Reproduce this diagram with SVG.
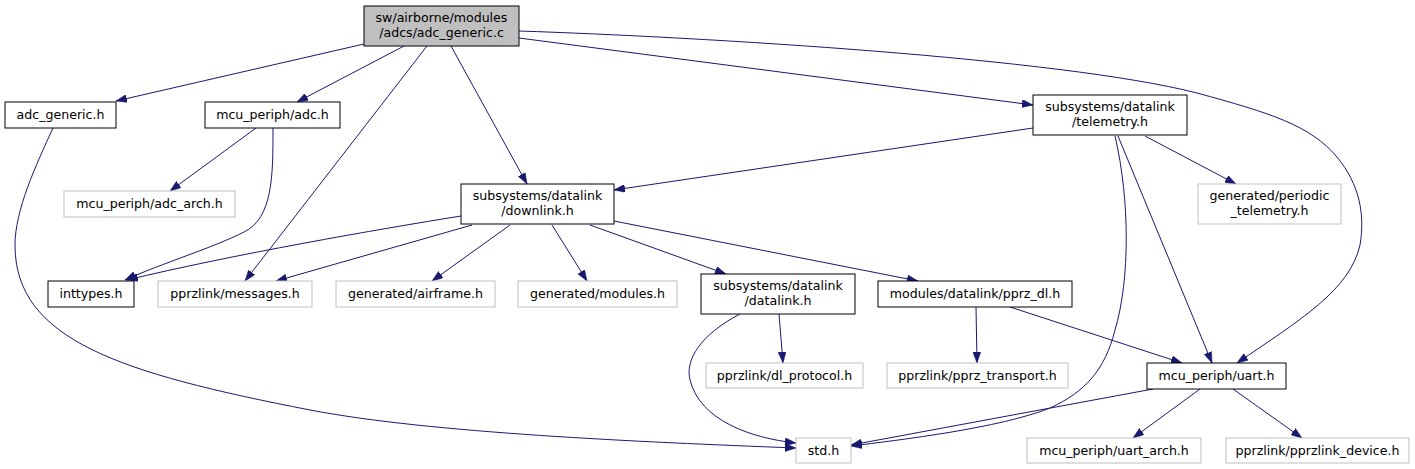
<svg xmlns="http://www.w3.org/2000/svg" width="1415" height="469" viewBox="0 0 1415 469">
<style>
.n rect{fill:#fff;stroke:#000;stroke-width:1}
.g rect{fill:#fff;stroke:#bfbfbf;stroke-width:1}
.m rect{fill:#bfbfbf;stroke:#000;stroke-width:1}
text{font-family:"DejaVu Sans",sans-serif;font-size:12.6px;fill:#000;text-anchor:middle}
#edges path{fill:none;stroke:#191970;stroke-width:1;marker-end:url(#ah)}
</style>
<defs>
<marker id="ah" markerUnits="userSpaceOnUse" markerWidth="11" markerHeight="8" viewBox="0 0 11 8" refX="11" refY="4" orient="auto">
<path d="M0,0 L11,4 L0,8 z" fill="#191970" stroke="#191970" stroke-width="0.5"/>
</marker>
</defs>
<rect width="1415" height="469" fill="#fff"/>
<g id="edges">
<path d="M364,44 L116,101"/>
<path d="M404,46 L297,102"/>
<path d="M427,46 L245,281"/>
<path d="M451,46 L527,184"/>
<path d="M519,38 L1033,105"/>
<path d="M519,31 C700,37 1060,58 1197,93 C1270,113 1310,125 1337,157 C1360,185 1365,215 1360,245 C1350,290 1300,320 1237,363"/>
<path d="M53,128 C36,165 15,210 15,245 C15,340 120,373 310,410 C430,433 640,442 796,448"/>
<path d="M256,128 L170,191"/>
<path d="M273,128 C273,175 273,218 244,232 C215,247 160,264 125,280"/>
<path d="M461,216 C380,229 230,255 127,280"/>
<path d="M472,225 L276,281"/>
<path d="M510,225 L432,281"/>
<path d="M552,225 L587,281"/>
<path d="M590,225 L726,274"/>
<path d="M614,221 L918,281"/>
<path d="M1033,128 L614,190"/>
<path d="M1145,136 L1236,184"/>
<path d="M1115,136 C1130,200 1130,280 1115,330 C1105,370 1085,392 1050,408 C1000,428 900,440 851,446"/>
<path d="M1118,136 L1212,363"/>
<path d="M779,314 L783,363"/>
<path d="M740,314 C700,335 685,360 690,380 C700,420 750,438 796,443"/>
<path d="M976,307 L977,363"/>
<path d="M1010,307 L1182,363"/>
<path d="M1153,389 L851,445"/>
<path d="M1200,389 L1133,438"/>
<path d="M1233,389 L1302,438"/>
</g>
<g id="main" class="m"><rect x="364" y="6" width="155" height="40"/><text x="441.5" y="22">sw/airborne/modules</text><text x="441.5" y="37">/adcs/adc_generic.c</text></g>
<g id="adc_generic_h" class="n"><rect x="5" y="102" width="111" height="26"/><text x="60.5" y="119">adc_generic.h</text></g>
<g id="adc_h" class="n"><rect x="205" y="102" width="135" height="26"/><text x="272.5" y="119">mcu_periph/adc.h</text></g>
<g id="adc_arch_h" class="g"><rect x="64" y="191" width="171" height="26"/><text x="149.5" y="208">mcu_periph/adc_arch.h</text></g>
<g id="telemetry_h" class="n"><rect x="1033" y="95" width="154" height="40"/><text x="1110" y="111">subsystems/datalink</text><text x="1110" y="126">/telemetry.h</text></g>
<g id="periodic_telemetry_h" class="g"><rect x="1198" y="184" width="143" height="40"/><text x="1269.5" y="200">generated/periodic</text><text x="1269.5" y="215">_telemetry.h</text></g>
<g id="downlink_h" class="n"><rect x="461" y="184" width="153" height="40"/><text x="537.5" y="200">subsystems/datalink</text><text x="537.5" y="215">/downlink.h</text></g>
<g id="inttypes_h" class="n"><rect x="48" y="281" width="86" height="26"/><text x="91" y="298">inttypes.h</text></g>
<g id="messages_h" class="g"><rect x="158" y="281" width="154" height="26"/><text x="235" y="298">pprzlink/messages.h</text></g>
<g id="airframe_h" class="g"><rect x="336" y="281" width="159" height="26"/><text x="415.5" y="298">generated/airframe.h</text></g>
<g id="modules_h" class="g"><rect x="518" y="281" width="159" height="26"/><text x="597.5" y="298">generated/modules.h</text></g>
<g id="datalink_h" class="n"><rect x="701" y="274" width="154" height="40"/><text x="778" y="290">subsystems/datalink</text><text x="778" y="305">/datalink.h</text></g>
<g id="pprz_dl_h" class="n"><rect x="878" y="281" width="194" height="26"/><text x="975" y="298">modules/datalink/pprz_dl.h</text></g>
<g id="dl_protocol_h" class="g"><rect x="706" y="363" width="157" height="25"/><text x="784.5" y="379.5">pprzlink/dl_protocol.h</text></g>
<g id="pprz_transport_h" class="g"><rect x="887" y="363" width="181" height="25"/><text x="977.5" y="379.5">pprzlink/pprz_transport.h</text></g>
<g id="uart_h" class="n"><rect x="1147" y="363" width="139" height="26"/><text x="1216.5" y="380">mcu_periph/uart.h</text></g>
<g id="std_h" class="g"><rect x="796" y="438" width="55" height="25"/><text x="823.5" y="454.5">std.h</text></g>
<g id="uart_arch_h" class="g"><rect x="1027" y="438" width="174" height="25"/><text x="1114" y="454.5">mcu_periph/uart_arch.h</text></g>
<g id="pprzlink_device_h" class="g"><rect x="1226" y="438" width="183" height="25"/><text x="1317.5" y="454.5">pprzlink/pprzlink_device.h</text></g>
</svg>
